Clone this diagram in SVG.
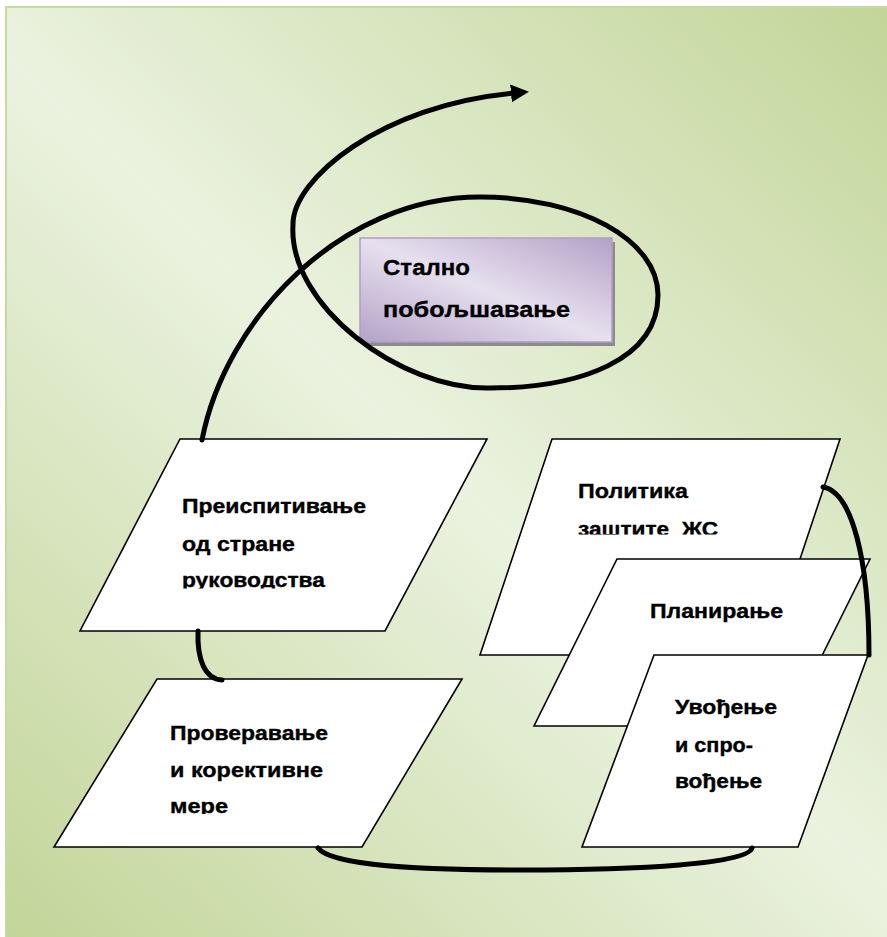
<svg xmlns="http://www.w3.org/2000/svg" width="887" height="937" viewBox="0 0 887 937">
  <defs>
    <linearGradient id="bgGrad" gradientUnits="userSpaceOnUse" x1="887" y1="0" x2="0" y2="937">
      <stop offset="0" stop-color="#c2d598"/>
      <stop offset="0.5" stop-color="#ebf2df"/>
      <stop offset="1" stop-color="#c2d598"/>
    </linearGradient>
    <linearGradient id="boxGrad" x1="1" y1="0" x2="0" y2="1">
      <stop offset="0" stop-color="#b3a2c8"/>
      <stop offset="0.5" stop-color="#e6e0ee"/>
      <stop offset="1" stop-color="#b3a2c8"/>
    </linearGradient>
    <marker id="arrow" markerUnits="userSpaceOnUse" markerWidth="20" markerHeight="20" refX="4" refY="9" orient="auto">
      <path d="M0,0 L18,9 L0,18 Z" fill="#000"/>
    </marker>
    <clipPath id="clipReview"><rect x="150" y="480" width="300" height="108.5"/></clipPath>
    <clipPath id="clipPolicy"><rect x="540" y="470" width="260" height="64.5"/></clipPath>
    <clipPath id="clipCheck"><rect x="140" y="700" width="300" height="114"/></clipPath>
  </defs>
  <style>
    .para { fill: #ffffff; stroke: #000000; stroke-width: 1.6; stroke-linejoin: miter; }
    .lbl { font-family: "Liberation Sans", "DejaVu Sans", sans-serif; font-weight: bold; font-size: 20px; fill: #000000; stroke: #000000; stroke-width: 0.35; }
    .big { font-size: 22px; }
    .conn { fill: none; stroke: #000000; stroke-width: 5; stroke-linecap: round; }
  </style>

  <!-- page background -->
  <rect x="6" y="7" width="890" height="940" fill="url(#bgGrad)" stroke="#c6da9f" stroke-width="2"/>

  <!-- Преиспитивање од стране руководства -->
  <g id="review">
    <polygon class="para" points="180,439 487,439 385,631 80,631"/>
    <g clip-path="url(#clipReview)">
      <text class="lbl" x="182" y="513" textLength="184" lengthAdjust="spacingAndGlyphs">Преиспитивање</text>
      <text class="lbl" x="182" y="551" textLength="113" lengthAdjust="spacingAndGlyphs">од стране</text>
      <text class="lbl" x="182" y="587" textLength="143" lengthAdjust="spacingAndGlyphs">руководства</text>
    </g>
  </g>

  <!-- Политика заштите ЖС -->
  <g id="policy">
    <polygon class="para" points="552,439 840,439 768,655 480,655"/>
    <g clip-path="url(#clipPolicy)">
      <text class="lbl" x="578" y="498" textLength="110" lengthAdjust="spacingAndGlyphs">Политика</text>
      <text class="lbl" x="578" y="536" textLength="140" lengthAdjust="spacingAndGlyphs" xml:space="preserve">заштите  ЖС</text>
    </g>
  </g>

  <!-- Планирање -->
  <g id="planning">
    <polygon class="para" points="617,559 870,559 787,726 534,726"/>
    <text class="lbl" x="650" y="618" textLength="133" lengthAdjust="spacingAndGlyphs">Планирање</text>
  </g>

  <!-- Увођење и спровођење -->
  <g id="implementation">
    <polygon class="para" points="654,655 868,655 798,847 582,847"/>
    <text class="lbl" x="675" y="714" textLength="102" lengthAdjust="spacingAndGlyphs">Увођење</text>
    <text class="lbl" x="675" y="752" textLength="78" lengthAdjust="spacingAndGlyphs">и спро-</text>
    <text class="lbl" x="675" y="788" textLength="87" lengthAdjust="spacingAndGlyphs">вођење</text>
  </g>

  <!-- Проверавање и корективне мере -->
  <g id="checking">
    <polygon class="para" points="157,679 462,679 362,847 54,847"/>
    <g clip-path="url(#clipCheck)">
      <text class="lbl" x="170" y="740" textLength="158" lengthAdjust="spacingAndGlyphs">Проверавање</text>
      <text class="lbl" x="170" y="777" textLength="153" lengthAdjust="spacingAndGlyphs">и корективне</text>
      <text class="lbl" x="170" y="813" textLength="58" lengthAdjust="spacingAndGlyphs">мере</text>
    </g>
  </g>

  <!-- Стално побољшавање -->
  <g id="improvement">
    <rect x="363" y="242" width="252" height="104" fill="#8c8c8c"/>
    <rect x="360" y="238" width="252" height="104" fill="url(#boxGrad)" stroke="#b09fc6" stroke-width="1.5"/>
    <text class="lbl big" x="383" y="275" textLength="87" lengthAdjust="spacingAndGlyphs">Стално</text>
    <text class="lbl big" x="383" y="317" textLength="187" lengthAdjust="spacingAndGlyphs">побољшавање</text>
  </g>

  <!-- connectors -->
  <g id="connectors">
    <path class="conn" d="M202,440 C225,320 340,197 480,197 C580,197 658,240 658,295 C658,360 580,388 490,388 C400,390 288,305 293,225 C292,180 380,105 515,93" marker-end="url(#arrow)"/>
    <path class="conn" d="M198,631 C197,660 205,679 222,680"/>
    <path class="conn" d="M823,487 C852,492 869,560 869,655"/>
    <path class="conn" d="M318,848 C332,866 420,870 520,870 C640,870 748,864 752,848"/>
  </g>
</svg>
